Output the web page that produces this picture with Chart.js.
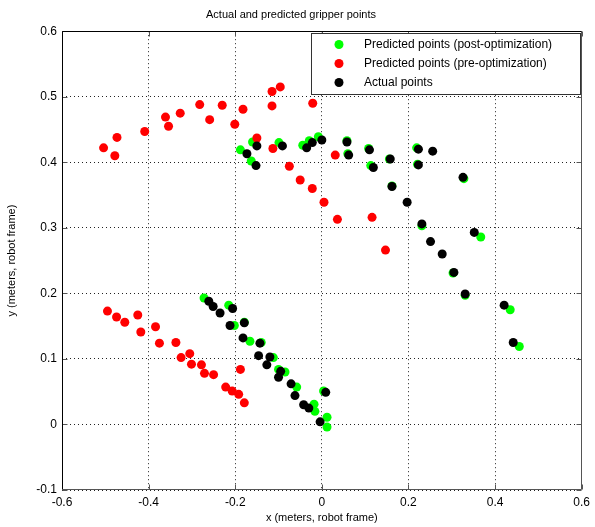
<!DOCTYPE html>
<html>
<head>
<meta charset="utf-8">
<script src="https://cdn.jsdelivr.net/npm/chart.js@4.4.0/dist/chart.umd.min.js"></script>
<style>
  body { margin: 0; background: #fff; }
  #wrap { width: 595px; height: 527px; }
</style>
</head>
<body>
<div id="wrap"><canvas id="chart" width="595" height="527"></canvas></div>
<script>
// --- DATA ---
const seriesLabels = ['Predicted points (post-optimization)', 'Predicted points (pre-optimization)', 'Actual points'];

const postX = [-0.188, -0.163, -0.160, -0.099, -0.044, -0.029, -0.008, 0.058, 0.060, 0.108, 0.113, 0.156, 0.162, 0.219, 0.221, 0.328,
    0.231, 0.303, 0.331, 0.367, 0.435, 0.456,
    -0.272, -0.215, -0.202, -0.179, -0.166, -0.140, -0.112, -0.100, -0.085, -0.058, -0.018, -0.016, 0.004, 0.012, 0.012];
const postY = [0.419, 0.402, 0.431, 0.430, 0.426, 0.433, 0.439, 0.433, 0.413, 0.421, 0.395, 0.405, 0.364, 0.422, 0.397, 0.375,
    0.303, 0.231, 0.197, 0.286, 0.175, 0.119,
    0.193, 0.182, 0.151, 0.156, 0.127, 0.125, 0.102, 0.084, 0.080, 0.057, 0.031, 0.020, 0.051, 0.011, -0.004];

const preX = [-0.504, -0.478, -0.473, -0.409, -0.361, -0.354, -0.327, -0.282, -0.259, -0.230, -0.201, -0.182, -0.115, -0.096, -0.115, -0.021,
    -0.150, -0.113, -0.075, -0.050, -0.022, 0.005, 0.031, 0.036, 0.116, 0.147,
    -0.495, -0.474, -0.455, -0.425, -0.418, -0.384, -0.375, -0.337, -0.325, -0.305, -0.301, -0.278, -0.271, -0.250, -0.222, -0.207, -0.192, -0.179, -0.188];
const preY = [0.422, 0.410, 0.438, 0.447, 0.469, 0.455, 0.475, 0.488, 0.465, 0.487, 0.458, 0.481, 0.508, 0.515, 0.486, 0.490,
    0.437, 0.421, 0.394, 0.373, 0.360, 0.339, 0.411, 0.313, 0.316, 0.266,
    0.173, 0.164, 0.156, 0.167, 0.141, 0.149, 0.124, 0.125, 0.102, 0.108, 0.092, 0.091, 0.078, 0.076, 0.057, 0.051, 0.046, 0.033, 0.084];

const actualX = [-0.173, -0.152, -0.150, -0.091, -0.035, -0.022, 0.000, 0.058, 0.062, 0.110, 0.119, 0.158, 0.162, 0.197, 0.223, 0.223, 0.256, 0.326,
    0.231, 0.251, 0.278, 0.305, 0.331, 0.352, 0.421, 0.442,
    -0.261, -0.251, -0.235, -0.206, -0.212, -0.179, -0.182, -0.143, -0.146, -0.120, -0.127, -0.095, -0.100, -0.071, -0.062, -0.042, -0.030, -0.004, 0.009];
const actualY = [0.413, 0.395, 0.425, 0.425, 0.422, 0.430, 0.434, 0.431, 0.411, 0.419, 0.392, 0.405, 0.363, 0.339, 0.420, 0.396, 0.417, 0.377,
    0.306, 0.279, 0.260, 0.232, 0.199, 0.293, 0.182, 0.125,
    0.188, 0.180, 0.170, 0.177, 0.151, 0.155, 0.132, 0.124, 0.105, 0.103, 0.091, 0.081, 0.072, 0.062, 0.044, 0.030, 0.025, 0.004, 0.049];

const xTicks = [-0.6, -0.4, -0.2, 0, 0.2, 0.4, 0.6];
const yTicks = [-0.1, 0, 0.1, 0.2, 0.3, 0.4, 0.5, 0.6];

const toPoints = (xs, ys) => xs.map((x, i) => ({ x: x, y: ys[i] }));
const FONT = '"Liberation Sans", Arial, sans-serif';

// Frame, inward ticks and the boxed legend inside the plot, MATLAB style
const frameAndLegend = {
    id: 'frameAndLegend',
    afterDraw(chart) {
        const ctx = chart.ctx;
        const a = chart.chartArea;
        const L = Math.round(a.left) + 0.5, T = Math.round(a.top) + 0.5;
        const R = Math.round(a.right) - 0.5, B = Math.round(a.bottom) - 0.5;
        ctx.save();
        ctx.lineWidth = 1;

        // inward tick marks
        ctx.strokeStyle = '#555';
        ctx.beginPath();
        chart.scales.x.ticks.forEach(t => {
            const px = Math.round(chart.scales.x.getPixelForValue(t.value)) + 0.5;
            ctx.moveTo(px, B); ctx.lineTo(px, B - 5);
            ctx.moveTo(px, T); ctx.lineTo(px, T + 5);
        });
        chart.scales.y.ticks.forEach(t => {
            const py = Math.round(chart.scales.y.getPixelForValue(t.value)) + 0.5;
            ctx.moveTo(L, py); ctx.lineTo(L + 5, py);
            ctx.moveTo(R, py); ctx.lineTo(R - 5, py);
        });
        ctx.stroke();

        // frame: top/left black, right/bottom a touch greyer like the original
        ctx.strokeStyle = '#000';
        ctx.beginPath();
        ctx.moveTo(L, B); ctx.lineTo(L, T); ctx.lineTo(R, T);
        ctx.stroke();
        ctx.strokeStyle = '#555';
        ctx.beginPath();
        ctx.moveTo(R, T); ctx.lineTo(R, B); ctx.lineTo(L, B);
        ctx.stroke();

        // legend box
        const bw = 269, bh = 61;
        const bx = Math.round(a.right) - 2 - bw, by = Math.round(a.top) + 2;
        ctx.fillStyle = '#fff';
        ctx.fillRect(bx, by, bw, bh);
        ctx.strokeStyle = '#333';
        ctx.strokeRect(bx + 0.5, by + 0.5, bw, bh);
        ctx.font = '12px ' + FONT;
        ctx.textBaseline = 'middle';
        chart.data.datasets.forEach((ds, i) => {
            const cy = by + 11.5 + i * 19;
            ctx.fillStyle = ds.backgroundColor;
            ctx.beginPath();
            ctx.arc(bx + 28, cy, 4.5, 0, Math.PI * 2);
            ctx.fill();
            ctx.fillStyle = '#000';
            ctx.fillText(ds.label, bx + 53, cy);
        });
        ctx.restore();
    }
};

const fmt = v => String(Math.round(v * 10) / 10);

new Chart(document.getElementById('chart'), {
    type: 'scatter',
    data: {
        datasets: [
            { label: seriesLabels[0], data: toPoints(postX, postY), backgroundColor: '#00ff00', order: 3 },
            { label: seriesLabels[1], data: toPoints(preX, preY), backgroundColor: '#ff0000', order: 2 },
            { label: seriesLabels[2], data: toPoints(actualX, actualY), backgroundColor: '#000000', order: 1 }
        ]
    },
    options: {
        responsive: false,
        animation: false,
        layout: { padding: { left: 0, right: 13, top: 0, bottom: 0 } },
        elements: { point: { radius: 4.5, borderWidth: 0, hoverRadius: 4.5 } },
        plugins: {
            legend: { display: false },
            tooltip: { enabled: false },
            title: {
                display: true,
                text: 'Actual and predicted gripper points',
                color: '#000',
                font: { family: FONT, size: 11, weight: 'normal' },
                padding: { top: 8, bottom: 10 }
            }
        },
        scales: {
            x: {
                type: 'linear',
                min: xTicks[0],
                max: xTicks[xTicks.length - 1],
                afterBuildTicks: s => { s.ticks = xTicks.map(v => ({ value: v })); },
                afterFit: s => { s.height = 37; },
                ticks: { color: '#000', padding: 5, font: { family: FONT, size: 12 }, callback: fmt, maxRotation: 0 },
                grid: { color: '#222', lineWidth: 1, drawTicks: false },
                border: { display: false, dash: [1, 3] },
                title: {
                    display: true, text: 'x (meters, robot frame)', color: '#000',
                    font: { family: FONT, size: 11 },
                    padding: { top: 0, bottom: 2 }
                }
            },
            y: {
                type: 'linear',
                min: yTicks[0],
                max: yTicks[yTicks.length - 1],
                afterBuildTicks: s => { s.ticks = yTicks.map(v => ({ value: v })); },
                afterFit: s => { s.width = 62; },
                ticks: { color: '#000', padding: 5, font: { family: FONT, size: 12 }, callback: fmt },
                grid: { color: '#222', lineWidth: 1, drawTicks: false },
                border: { display: false, dash: [1, 3] },
                title: {
                    display: true, text: 'y (meters, robot frame)', color: '#000',
                    font: { family: FONT, size: 11 },
                    padding: { top: 5, bottom: 0 }
                }
            }
        }
    },
    plugins: [frameAndLegend]
});
</script>
</body>
</html>
